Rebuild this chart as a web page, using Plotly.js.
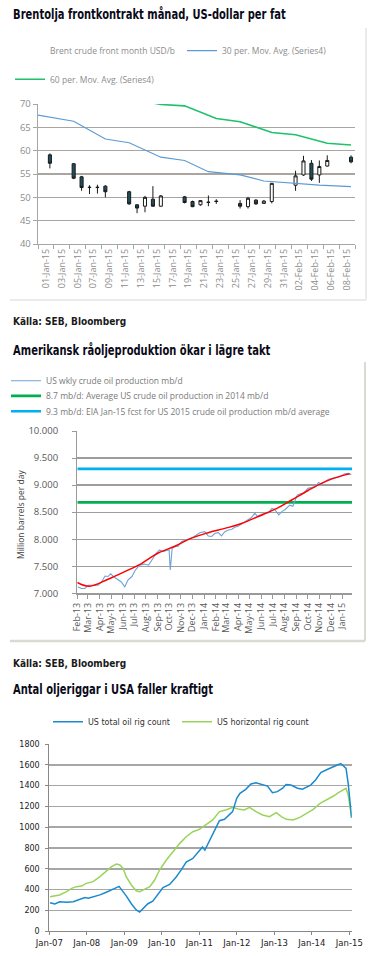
<!DOCTYPE html>
<html><head><meta charset="utf-8">
<script src="https://cdn.plot.ly/plotly-3.0.1.min.js"></script>
<style>
html,body{margin:0;padding:0;background:#fff}#chart{width:369px;height:956px}
g.annotation[data-index="0"] text.annotation-text,
g.annotation[data-index="2"] text.annotation-text,
g.annotation[data-index="5"] text.annotation-text{transform:scaleX(0.79);transform-box:fill-box;transform-origin:0% 50%}
</style>
</head><body><div id="chart"></div>
<script>
// ---------- Chart 1: Brent front month candles ----------
const brentDates = ['2015-01-02','2015-01-05','2015-01-06','2015-01-07','2015-01-08','2015-01-09',
  '2015-01-12','2015-01-13','2015-01-14','2015-01-15','2015-01-16',
  '2015-01-19','2015-01-20','2015-01-21','2015-01-22','2015-01-23',
  '2015-01-26','2015-01-27','2015-01-28','2015-01-29','2015-01-30',
  '2015-02-02','2015-02-03','2015-02-04','2015-02-05','2015-02-06','2015-02-09'];
const brentOpen  = [59.1,57.2,54.4,52.1,52.1,52.4, 51.2,48.4,48.1,49.6,48.1, 50.1,49.1,48.4,48.9,49.2, 48.7,48.0,49.4,48.7,49.1, 52.6,54.8,57.3,54.8,56.7,58.6];
const brentHigh  = [59.4,57.3,54.6,52.6,52.7,52.6, 51.4,48.5,50.3,52.4,50.5, 50.3,49.3,49.4,50.4,49.6, 49.4,50.1,49.6,49.4,53.1, 55.7,58.9,58.0,57.9,59.0,59.0];
const brentLow   = [56.2,53.9,51.4,50.7,50.8,50.0, 48.4,46.6,46.8,48.0,48.0, 48.7,47.9,48.2,48.1,48.6, 47.6,47.6,48.4,48.6,48.7, 51.4,54.6,53.5,53.1,56.6,57.3];
const brentClose = [57.3,54.1,52.1,52.15,52.15,51.2, 48.6,47.7,50.0,48.1,50.3, 48.9,48.0,49.3,48.95,49.1, 48.1,49.8,48.6,49.2,53.0, 54.6,57.8,53.9,56.6,57.9,57.6];
const brentTickVals = ['2015-01-01 12:00','2015-01-03 12:00','2015-01-05 12:00','2015-01-07 12:00','2015-01-09 12:00',
  '2015-01-11 12:00','2015-01-13 12:00','2015-01-15 12:00','2015-01-17 12:00','2015-01-19 12:00',
  '2015-01-21 12:00','2015-01-23 12:00','2015-01-25 12:00','2015-01-27 12:00','2015-01-29 12:00',
  '2015-01-31 12:00','2015-02-02 12:00','2015-02-04 12:00','2015-02-06 12:00','2015-02-08 12:00'];
const brentTickText = ['01-Jan-15','03-Jan-15','05-Jan-15','07-Jan-15','09-Jan-15','11-Jan-15','13-Jan-15',
  '15-Jan-15','17-Jan-15','19-Jan-15','21-Jan-15','23-Jan-15','25-Jan-15','27-Jan-15','29-Jan-15',
  '31-Jan-15','02-Feb-15','04-Feb-15','06-Feb-15','08-Feb-15'];
const ma30Dates  = ['2014-12-31 12:00','2015-01-05','2015-01-09','2015-01-12','2015-01-16','2015-01-19','2015-01-22','2015-01-26','2015-01-29','2015-02-01','2015-02-05','2015-02-09'];
const ma30Values = [67.6,66.3,62.5,61.7,58.6,57.9,55.5,54.8,53.5,53.1,52.6,52.3];
const ma60Dates  = ['2015-01-12','2015-01-16','2015-01-19','2015-01-23','2015-01-26','2015-01-30','2015-02-02','2015-02-06','2015-02-09'];
const ma60Values = [71.2,69.9,69.6,66.9,66.2,63.9,63.4,61.6,61.2];

// ---------- Chart 2: US crude oil production ----------
const prodDates = ['2013-02-02','2013-02-12','2013-02-21','2013-03-02','2013-03-15','2013-03-28','2013-04-06','2013-04-15',
  '2013-04-23','2013-04-30','2013-05-09','2013-05-19','2013-05-28','2013-06-06','2013-06-15','2013-06-25','2013-07-04',
  '2013-07-15','2013-07-28','2013-08-08','2013-08-17','2013-08-28','2013-09-06','2013-09-15','2013-09-24','2013-10-01',
  '2013-10-04','2013-10-09','2013-10-16','2013-10-25','2013-11-03','2013-11-16','2013-11-29','2013-12-08','2013-12-21',
  '2014-01-03','2014-01-12','2014-01-21','2014-01-30','2014-02-08','2014-02-16','2014-02-25','2014-03-06','2014-03-15',
  '2014-03-23','2014-04-01','2014-04-10','2014-04-18','2014-04-27','2014-05-06','2014-05-15','2014-05-22','2014-06-01',
  '2014-06-12','2014-06-20','2014-06-29','2014-07-06','2014-07-17','2014-07-25','2014-08-03','2014-08-15','2014-08-23',
  '2014-08-28','2014-09-04','2014-09-12','2014-09-21','2014-10-02','2014-10-12','2014-10-21','2014-10-30','2014-11-06',
  '2014-11-15','2014-11-25','2014-12-07','2014-12-20','2014-12-29','2015-01-07','2015-01-17','2015-01-24'];
const prodValues = [7.12,7.09,7.09,7.15,7.15,7.15,7.21,7.32,
  7.31,7.36,7.30,7.26,7.21,7.12,7.25,7.31,7.43,
  7.52,7.54,7.52,7.62,7.74,7.80,7.77,7.79,7.80,
  7.43,7.83,7.86,7.87,7.96,7.99,8.02,8.06,8.12,
  8.14,8.06,8.05,8.11,8.12,8.06,8.14,8.17,8.18,
  8.22,8.24,8.29,8.32,8.36,8.40,8.48,8.42,8.46,
  8.48,8.49,8.57,8.55,8.45,8.51,8.55,8.63,8.61,
  8.69,8.82,8.84,8.85,8.94,8.96,8.97,9.05,9.02,
  9.06,9.11,9.13,9.14,9.17,9.21,9.22,9.19];
const trendDates = ['2013-02-01','2013-03-05','2013-04-23','2013-06-06','2013-07-20','2013-09-01','2013-10-16','2013-11-29',
  '2014-01-12','2014-02-25','2014-04-10','2014-05-24','2014-07-06','2014-08-19','2014-10-02','2014-11-15','2014-12-29','2015-01-20'];
const trendValues = [7.20,7.13,7.26,7.40,7.55,7.74,7.87,8.02,8.12,8.20,8.29,8.42,8.55,8.72,8.90,9.06,9.17,9.21];
const refDates = ['2013-02-01','2015-01-26'];
const avg2014Values = [8.68,8.68];
const eiaFcstValues = [9.30,9.30];

// ---------- Chart 3: US oil rig count ----------
const rigTotalDates = ['2007-01-08','2007-02-24','2007-04-12','2007-06-18','2007-08-22','2007-10-24','2007-12-13','2008-01-15',
  '2008-03-03','2008-05-08','2008-07-09','2008-08-29','2008-10-16','2008-11-10','2008-12-02','2009-01-19','2009-03-10',
  '2009-04-27','2009-05-30','2009-07-02','2009-08-18','2009-10-05','2009-12-10','2010-01-12','2010-03-18','2010-05-19',
  '2010-07-09','2010-08-26','2010-10-30','2011-01-01','2011-02-01','2011-02-24','2011-04-09','2011-05-12','2011-06-12',
  '2011-07-16','2011-09-03','2011-11-21','2011-12-31','2012-02-01','2012-03-28','2012-05-18','2012-07-05','2012-09-09',
  '2012-10-26','2012-12-13','2013-01-30','2013-03-23','2013-04-24','2013-06-11','2013-08-15','2013-10-01','2013-11-18',
  '2013-12-20','2014-02-06','2014-03-29','2014-05-30','2014-07-20','2014-09-06','2014-10-10','2014-11-07','2014-11-30',
  '2014-12-21','2015-01-07','2015-01-23'];
const rigTotalValues = [275,262,283,280,285,305,325,318,
  330,350,375,395,420,432,405,340,265,
  205,185,215,265,290,380,420,450,520,
  590,665,700,780,810,780,870,945,1006,
  1063,1076,1150,1278,1326,1364,1416,1428,1405,
  1395,1332,1342,1375,1410,1405,1375,1365,1390,
  1405,1455,1525,1555,1580,1598,1612,1590,1565,
  1420,1230,1090];
const rigHorizDates = ['2007-01-08','2007-02-24','2007-04-12','2007-06-18','2007-08-07','2007-09-24','2007-11-10','2007-12-27',
  '2008-03-03','2008-05-08','2008-07-09','2008-08-29','2008-10-16','2008-11-18','2008-12-20','2009-01-19','2009-03-10',
  '2009-04-27','2009-05-30','2009-07-16','2009-09-06','2009-10-23','2009-12-10','2010-02-14','2010-04-20','2010-06-25',
  '2010-08-26','2010-10-30','2011-01-01','2011-03-07','2011-05-12','2011-07-16','2011-09-17','2011-11-21','2012-01-26',
  '2012-03-14','2012-05-04','2012-07-05','2012-09-09','2012-11-14','2013-01-19','2013-03-10','2013-04-27','2013-07-02',
  '2013-09-06','2013-11-10','2014-01-15','2014-03-22','2014-05-27','2014-07-31','2014-09-17','2014-11-06','2014-11-30',
  '2014-12-21','2015-01-07','2015-01-23'];
const rigHorizValues = [333,339,349,381,413,429,435,461,
  477,525,573,621,647,637,605,525,445,
  390,381,403,429,493,589,685,765,845,
  909,957,980,1022,1070,1150,1166,1191,1172,
  1166,1191,1150,1118,1102,1140,1102,1076,1070,
  1095,1134,1172,1230,1262,1300,1332,1364,1374,
  1310,1214,1095];

// ---------- helpers (pixel -> paper) ----------
const W = 369, H = 956;
const fx = v => v / W;
const fy = v => 1 - v / H;

const titleFont = {family: '"DejaVu Sans Condensed", "DejaVu Sans", sans-serif', size: 14, color: '#0a0a18'};
const srcFont = {family: '"DejaVu Sans Condensed", "DejaVu Sans", sans-serif', size: 10, color: '#1a1a1a'};
const legFont1 = {family: '"Open Sans", sans-serif', size: 8.5, color: '#8c8c8c'};
const legFont2 = {family: '"Open Sans", sans-serif', size: 8.5, color: '#7a7a7a'};
const legFont3 = {family: '"DejaVu Sans", sans-serif', size: 8, color: '#333333'};

const traces = [
  {type: 'candlestick', x: brentDates, open: brentOpen, high: brentHigh, low: brentLow, close: brentClose,
   xaxis: 'x', yaxis: 'y', showlegend: false, whiskerwidth: 0, hoverinfo: 'skip',
   increasing: {line: {color: '#1a1a1a', width: 1}, fillcolor: '#ffffff'},
   decreasing: {line: {color: '#1a1a1a', width: 1}, fillcolor: '#1f4e5f'}},
  {type: 'scatter', mode: 'lines', x: [brentDates[0]], y: [null], name: 'Brent crude front month USD/b',
   xaxis: 'x', yaxis: 'y', line: {color: 'rgba(0,0,0,0)'}, legend: 'legend'},
  {type: 'scatter', mode: 'lines', x: ma30Dates, y: ma30Values, name: '30 per. Mov. Avg. (Series4)',
   xaxis: 'x', yaxis: 'y', line: {color: '#5b9bd5', width: 1.2}, legend: 'legend2'},
  {type: 'scatter', mode: 'lines', x: ma60Dates, y: ma60Values, name: '60 per. Mov. Avg. (Series4)',
   xaxis: 'x', yaxis: 'y', line: {color: '#1ec26a', width: 1.6}, legend: 'legend3'},

  {type: 'scatter', mode: 'lines', x: refDates, y: avg2014Values, name: '8.7 mb/d: Average US crude oil production in 2014 mb/d',
   xaxis: 'x2', yaxis: 'y2', line: {color: '#00b050', width: 2.6}, legend: 'legend5'},
  {type: 'scatter', mode: 'lines', x: refDates, y: eiaFcstValues, name: '9.3 mb/d: EIA Jan-15 fcst for US 2015 crude oil production mb/d average',
   xaxis: 'x2', yaxis: 'y2', line: {color: '#00b0f0', width: 2.6}, legend: 'legend6'},
  {type: 'scatter', mode: 'lines', x: prodDates, y: prodValues, name: 'US wkly crude oil production mb/d',
   xaxis: 'x2', yaxis: 'y2', line: {color: '#6fa3d6', width: 1.1}, legend: 'legend4'},
  {type: 'scatter', mode: 'lines', x: trendDates, y: trendValues, name: 'trend', showlegend: false,
   xaxis: 'x2', yaxis: 'y2', line: {color: '#ff0000', width: 1.5, shape: 'spline'}},

  {type: 'scatter', mode: 'lines', x: rigHorizDates, y: rigHorizValues, name: 'US horizontal rig count',
   xaxis: 'x3', yaxis: 'y3', line: {color: '#98d45a', width: 1.5}, legend: 'legend8'},
  {type: 'scatter', mode: 'lines', x: rigTotalDates, y: rigTotalValues, name: 'US total oil rig count',
   xaxis: 'x3', yaxis: 'y3', line: {color: '#1a8ad0', width: 1.5}, legend: 'legend7'}
];

function leg(xp, yp, font) {
  return {x: fx(xp), xanchor: 'left', y: fy(yp), yanchor: 'middle', orientation: 'h',
          font: font, bgcolor: 'rgba(0,0,0,0)', borderwidth: 0};
}

const layout = {
  width: W, height: H, margin: {l: 0, r: 0, t: 0, b: 0},
  paper_bgcolor: '#ffffff', plot_bgcolor: '#ffffff',
  font: {family: '"Open Sans", sans-serif'},
  boxgap: 0.45,
  xaxis: {type: 'date', domain: [fx(38), fx(355)], anchor: 'y', range: ['2014-12-31 12:00', '2015-02-09 12:00'],
    rangeslider: {visible: false}, tickmode: 'array', tickvals: brentTickVals, ticktext: brentTickText,
    tickangle: -90, ticks: '', showgrid: false, showline: true, linecolor: '#a6a6a6', linewidth: 1.3,
    tickfont: {size: 9, color: '#8c8c8c'}, fixedrange: true,
    minor: {ticks: 'outside', ticklen: 4, tickcolor: '#a6a6a6', tickwidth: 1, tick0: '2014-12-31 12:00', dtick: 172800000, showgrid: false}},
  yaxis: {domain: [fy(244), fy(104)], anchor: 'x', range: [40, 70], dtick: 5, tick0: 40,
    showgrid: true, gridcolor: '#aaa59e', gridwidth: 1.3, zeroline: false,
    showline: true, linecolor: '#a6a6a6', linewidth: 1.3, ticks: 'outside', ticklen: 4, tickcolor: '#a6a6a6',
    tickfont: {size: 9.5, color: '#8c8c8c'}, fixedrange: true},

  xaxis2: {type: 'date', domain: [fx(77.3), fx(352)], anchor: 'y2', range: ['2013-02-01', '2015-01-26'],
    tick0: '2013-02-01', dtick: 'M1', tickformat: '%b-%y', tickangle: -90,
    ticks: 'outside', ticklen: 4, tickcolor: '#9a9a9a', showgrid: false, showline: true, linecolor: '#9a9a9a', linewidth: 2,
    tickfont: {size: 9, color: '#595959'}, fixedrange: true},
  yaxis2: {domain: [fy(593.3), fy(431)], anchor: 'x2', range: [7, 10], dtick: 0.5, tick0: 7, tickformat: '.3f',
    showgrid: true, gridcolor: '#9d9d9d', gridwidth: 1.3, zeroline: false,
    showline: true, linecolor: '#9a9a9a', linewidth: 1.3, ticks: 'outside', ticklen: 4, tickcolor: '#9a9a9a',
    ticklabelstandoff: 12, tickfont: {size: 9.5, color: '#595959'}, fixedrange: true},

  xaxis3: {type: 'date', domain: [fx(49.3), fx(351.7)], anchor: 'y3', range: ['2007-01-01', '2015-01-24'],
    tick0: '2007-01-01', dtick: 'M12', tickformat: '%b-%y',
    ticks: 'outside', ticklen: 3, tickcolor: '#888', showgrid: false, showline: true, linecolor: '#888', linewidth: 1,
    tickfont: {family: '"DejaVu Sans", sans-serif', size: 8.5, color: '#222'}, fixedrange: true},
  yaxis3: {domain: [fy(931.3), fy(744)], anchor: 'x3', range: [0, 1800], dtick: 200, tick0: 0,
    showgrid: true, gridcolor: '#a6a6a6', gridwidth: 1.5, zeroline: false,
    showline: true, linecolor: '#888', linewidth: 1, ticks: 'outside', ticklen: 3, tickcolor: '#888',
    ticklabelstandoff: 4, tickfont: {family: '"DejaVu Sans", sans-serif', size: 8, color: '#222'}, fixedrange: true},

  legend:  leg(10, 50.7, legFont1),
  legend2: leg(182, 50.7, legFont1),
  legend3: leg(10, 79.3, legFont1),
  legend4: leg(6, 380.7, legFont2),
  legend5: leg(6, 395.9, legFont2),
  legend6: leg(6, 411.2, legFont2),
  legend7: leg(48, 721.7, legFont3),
  legend8: leg(177, 721.7, legFont3),

  annotations: [
    {text: '<b>Brentolja frontkontrakt månad, US-dollar per fat</b>', xref: 'paper', yref: 'paper', x: fx(11), y: fy(14),
     xanchor: 'left', yanchor: 'middle', showarrow: false, font: titleFont},
    {text: '<b>Källa: SEB, Bloomberg</b>', xref: 'paper', yref: 'paper', x: fx(11), y: fy(322),
     xanchor: 'left', yanchor: 'middle', showarrow: false, font: srcFont},
    {text: '<b>Amerikansk råoljeproduktion ökar i lägre takt</b>', xref: 'paper', yref: 'paper', x: fx(11), y: fy(350),
     xanchor: 'left', yanchor: 'middle', showarrow: false, font: titleFont},
    {text: 'Million barrels per day', xref: 'paper', yref: 'paper', x: fx(20), y: fy(515), textangle: -90,
     xanchor: 'center', yanchor: 'middle', showarrow: false, font: {family: '"Open Sans", sans-serif', size: 8.5, color: '#404040'}},
    {text: '<b>Källa: SEB, Bloomberg</b>', xref: 'paper', yref: 'paper', x: fx(11), y: fy(663),
     xanchor: 'left', yanchor: 'middle', showarrow: false, font: srcFont},
    {text: '<b>Antal oljeriggar i USA faller kraftigt</b>', xref: 'paper', yref: 'paper', x: fx(11), y: fy(689),
     xanchor: 'left', yanchor: 'middle', showarrow: false, font: titleFont}
  ],
  shapes: [
    {type: 'line', xref: 'paper', yref: 'paper', x0: fx(366), x1: fx(366), y0: fy(28), y1: fy(300), line: {color: '#e4e4e4', width: 1.5}},
    {type: 'line', xref: 'paper', yref: 'paper', x0: fx(10), x1: fx(366), y0: fy(300), y1: fy(300), line: {color: '#e4e4e4', width: 1.5}},
    {type: 'line', xref: 'paper', yref: 'paper', x0: fx(365), x1: fx(365), y0: fy(362), y1: fy(641), line: {color: '#dadad4', width: 2}},
    {type: 'line', xref: 'paper', yref: 'paper', x0: fx(10), x1: fx(365), y0: fy(641), y1: fy(641), line: {color: '#dadad4', width: 2.5}}
  ]
};

Plotly.newPlot('chart', traces, layout, {displayModeBar: false, staticPlot: true});
</script>
</body></html>
